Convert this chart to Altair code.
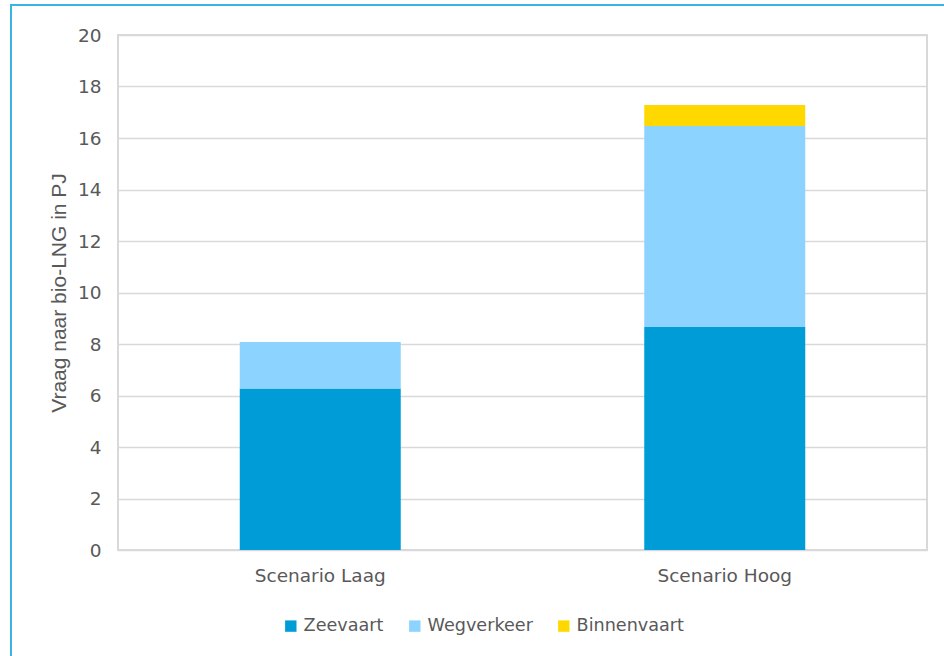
import altair as alt
import pandas as pd

scenarios = ["Scenario Laag", "Scenario Hoog"]
series = ["Zeevaart", "Wegverkeer", "Binnenvaart"]
zeevaart = [6.27, 8.66]
wegverkeer = [1.81, 7.81]
binnenvaart = [0.0, 0.81]
colors = ["#009CD8", "#8DD3FF", "#FFD800"]
y_ticks = list(range(0, 21, 2))

rows = []
for i, sc in enumerate(scenarios):
    for j, (name, vals) in enumerate(zip(series, [zeevaart, wegverkeer, binnenvaart])):
        rows.append({"scenario": sc, "serie": name, "waarde": vals[i], "orde": j})
df = pd.DataFrame(rows)

grey = "#595959"

bars = alt.Chart(df).mark_bar().encode(
    x=alt.X("scenario:N", sort=scenarios,
            scale=alt.Scale(paddingInner=0.602, paddingOuter=0.301),
            axis=alt.Axis(title=None, labelAngle=0, labelFont="DejaVu Sans",
                          labelFontSize=18.5, labelColor=grey, labelPadding=16,
                          ticks=False, domain=False)),
    y=alt.Y("waarde:Q", stack="zero",
            scale=alt.Scale(domain=[0, 20], nice=False),
            axis=alt.Axis(title="Vraag naar bio-LNG in PJ", values=y_ticks,
                          titleFont="Liberation Sans", titleFontSize=21,
                          titleFontWeight="normal", titleColor=grey,
                          titlePadding=8,
                          labelFont="DejaVu Sans", labelFontSize=18.5,
                          labelColor=grey, labelPadding=17,
                          ticks=False, domain=False,
                          gridColor="#d9d9d9", gridWidth=1.5)),
    color=alt.Color("serie:N", sort=series,
                    scale=alt.Scale(domain=series, range=colors),
                    legend=alt.Legend(title=None, orient="none",
                                      direction="horizontal",
                                      legendX=164, legendY=582,
                                      symbolType="square", symbolSize=130,
                                      symbolStrokeWidth=0,
                                      labelFont="DejaVu Sans",
                                      labelFontSize=17.6, labelColor=grey,
                                      columnPadding=22, labelOffset=4)),
    order=alt.Order("orde:Q"),
)

border = alt.Chart(df).mark_rect(fill=None, stroke="#3BB4E5", strokeWidth=2,
                                 clip=False).encode(
    x=alt.value(-107), x2=alt.value(860),
    y=alt.value(-30), y2=alt.value(700),
)

chart = alt.layer(bars, border).properties(
    width=809, height=515,
    padding={"left": 118, "top": 35, "right": 17, "bottom": 106},
    autosize=alt.AutoSizeParams(type="none"),
).configure_view(stroke="#d9d9d9", strokeWidth=2)

chart.save("out.html", embed_options={"renderer": "svg", "actions": False})
